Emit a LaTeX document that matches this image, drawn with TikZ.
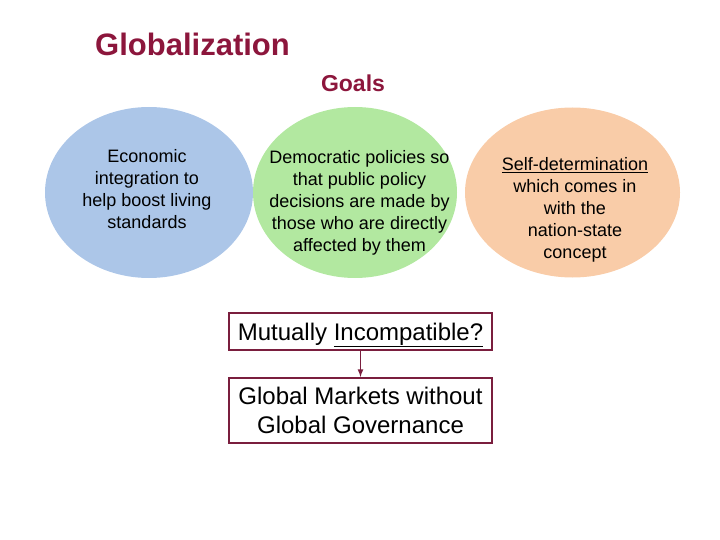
\documentclass[tikz,border=0pt]{standalone}
\usepackage{fontspec}
\setmainfont{Liberation Sans}
\usepackage{tikz}
\usetikzlibrary{shapes}

\definecolor{titlered}{RGB}{140,22,60}
\definecolor{boxred}{RGB}{122,30,62}
\definecolor{econblue}{RGB}{172,198,232}
\definecolor{demogreen}{RGB}{178,232,160}
\definecolor{selforange}{RGB}{249,204,168}

\begin{document}
\begin{tikzpicture}[x=1pt, y=-1pt,
  goaltext/.style={align=center, inner sep=0pt, font=\fontsize{18}{22}\selectfont},
  boxed/.style={draw=boxred, line width=2pt, minimum width=263pt, inner sep=0pt,
    align=center, font=\fontsize{24}{29}\selectfont}]
\useasboundingbox (0, 0) rectangle (720, 540);

\node[anchor=base west, inner sep=0pt, text=titlered, font=\fontsize{31}{36}\selectfont\bfseries] (title) at (95, 56) {Globalization};
\node[anchor=base, inner sep=0pt, text=titlered, font=\fontsize{23}{28}\selectfont\bfseries] (goals) at (353, 91.5) {Goals};

% the three goals
\fill[econblue] (149, 192.5) ellipse (104 and 85.5);
\fill[demogreen] (355, 192.5) ellipse (102 and 85.5);
\fill[selforange] (572.5, 192.5) ellipse (107.5 and 85);

\node[goaltext] (econ) at (147, 189) {Economic\\integration to\\help boost living\\standards};
\node[goaltext] (demo) at (359.5, 202.5) {Democratic policies so\\that public policy\\decisions are made by\\those who are directly\\affected by them};
\node[goaltext] (self) at (575, 209.5) {\underline{Self-determination}\\which comes in\\with the\\nation-state\\concept};

\node[boxed, minimum height=37pt, text depth=0pt] (mutual) at (360.5, 331.5) {Mutually \underline{Incompatible?}};
\node[boxed, minimum height=65pt] (markets) at (360.5, 410.5) {Global Markets without\\Global Governance};
\draw[boxred, line width=1.6pt, -latex] (mutual) -- (markets);
\end{tikzpicture}
\end{document}
